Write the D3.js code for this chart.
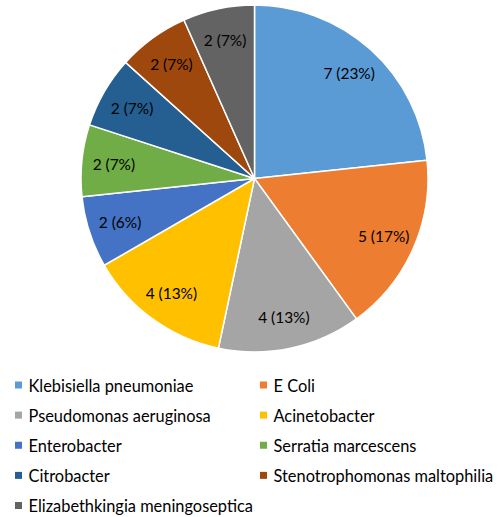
<!DOCTYPE html>
<html><head><meta charset="utf-8">
<script src="https://cdn.jsdelivr.net/npm/d3@7"></script>
<style>body{margin:0;background:#fff;}svg{display:block;}</style>
</head><body>
<svg id="c" width="502" height="517"></svg>
<script>
const categories = ["Klebisiella pneumoniae","E Coli","Pseudomonas aeruginosa","Acinetobacter","Enterobacter","Serratia marcescens","Citrobacter","Stenotrophomonas maltophilia","Elizabethkingia meningoseptica"];
const counts = [7,5,4,4,2,2,2,2,2];
const percentLabels = ["23%","17%","13%","13%","6%","7%","7%","7%","7%"];
const colors = ["#5B9BD5","#ED7D31","#A5A5A5","#FFC000","#4472C4","#70AD47","#255E91","#9E480E","#636363"];

const FONT = "Lato, 'Open Sans', sans-serif";
const svg = d3.select("#c");

// fit font size so a sample string reaches a target width
function fitSize(sample, target, base) {
  const t = svg.append("text").attr("font-family", FONT).attr("font-size", base).text(sample);
  const w = t.node().getComputedTextLength();
  t.remove();
  return w > 0 ? base * target / w : base;
}
const labelSize = fitSize("7 (23%)", 51.5, 14);
const legendSize = fitSize("Klebisiella pneumoniae", 165, 15);

const cx = 254.5, cy = 178.5, R = 173.5;
const data = categories.map((c,i)=>({name:c, value:counts[i], pct:percentLabels[i], color:colors[i]}));
const pie = d3.pie().value(d=>d.value).sort(null);
const arc = d3.arc().innerRadius(0).outerRadius(R);
const labelArc = d3.arc().innerRadius(R*0.815).outerRadius(R*0.815);
const g = svg.append("g").attr("transform",`translate(${cx},${cy})`);
const arcs = pie(data);
g.selectAll("path").data(arcs).join("path")
  .attr("d",arc).attr("fill",d=>d.data.color)
  .attr("stroke","#fff").attr("stroke-width",1.5).attr("stroke-linejoin","round");
g.selectAll("text").data(arcs).join("text")
  .attr("transform",d=>`translate(${labelArc.centroid(d)})`)
  .attr("text-anchor","middle").attr("dominant-baseline","central")
  .attr("font-family",FONT).attr("font-size",labelSize)
  .attr("fill","#000")
  .text(d=>`${d.data.value} (${d.data.pct})`);

const leg = svg.append("g");
const rowY = d3.scalePoint().domain(d3.range(5)).range([385,505.5]);
data.forEach((d,i)=>{
  const col = i%2, row = Math.floor(i/2);
  const x = col===0 ? 15 : 260;
  const y = rowY(row);
  leg.append("rect").attr("x",x).attr("y",y-3.5).attr("width",7).attr("height",7).attr("fill",d.color);
  leg.append("text").attr("x",x+13.5).attr("y",y).attr("dominant-baseline","central")
    .attr("font-family",FONT).attr("font-size",legendSize)
    .attr("fill","#000").text(d.name);
});
</script>
</body></html>
